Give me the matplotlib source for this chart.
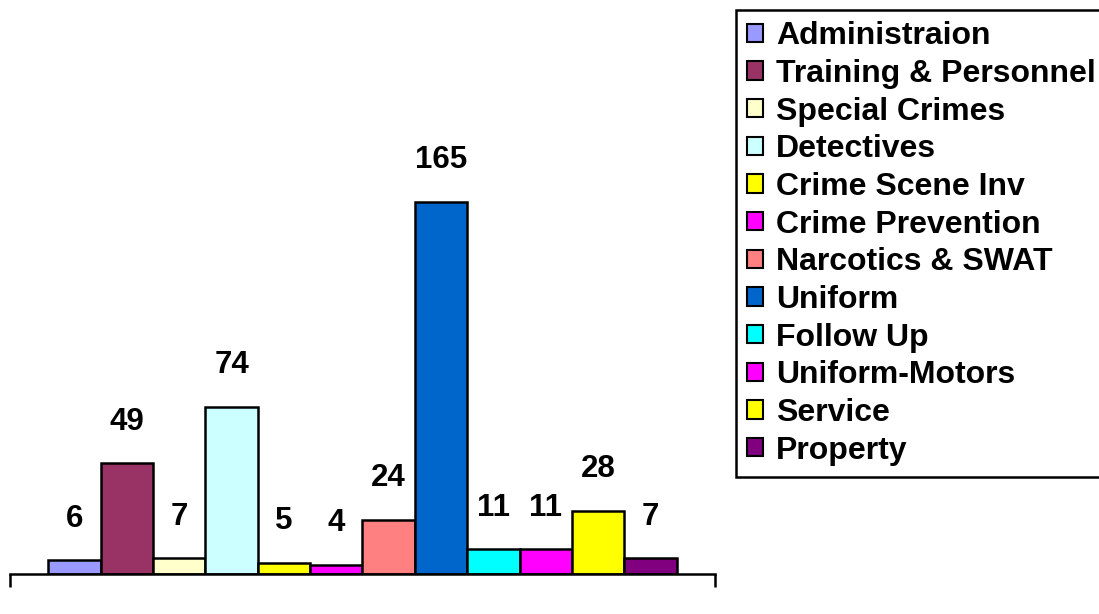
import matplotlib
matplotlib.use('Agg')
import matplotlib.pyplot as plt
from matplotlib.patches import Patch

plt.rcParams['font.family'] = ['Liberation Sans', 'DejaVu Sans']

units = ['Administraion', 'Training & Personnel', 'Special Crimes', 'Detectives',
         'Crime Scene Inv', 'Crime Prevention', 'Narcotics & SWAT', 'Uniform',
         'Follow Up', 'Uniform-Motors', 'Service', 'Property']
counts = [6, 49, 7, 74, 5, 4, 24, 165, 11, 11, 28, 7]
colors = ['#9999FF', '#993366', '#FFFFCC', '#CCFFFF', '#FFFF00', '#FF00FF',
          '#FF8080', '#0066CC', '#00FFFF', '#FF00FF', '#FFFF00', '#800080']

W, H = 1099, 614
fig = plt.figure(figsize=(W / 100, H / 100), dpi=100)
ax = fig.add_axes([10 / W, 40 / H, 705 / W, 406 / H])

x = list(range(len(counts)))
ax.bar(x, counts, width=1.0, color=colors, edgecolor='black', linewidth=1.8)

# value labels above each bar
for xi, v in zip(x, counts):
    ax.annotate(str(v), (xi, v), xytext=(0, 30), textcoords='offset points',
                ha='center', va='center', fontsize=22.5, fontweight='bold')

ax.set_xlim(-0.5 - 0.73, 11.5 + 0.73)
ax.set_ylim(0, 180)
for s in ['top', 'right', 'left']:
    ax.spines[s].set_visible(False)
ax.spines['bottom'].set_linewidth(1.8)
ax.set_yticks([])
ax.set_xticks([-0.5 - 0.73, 11.5 + 0.73])
ax.set_xticklabels([])
ax.tick_params(axis='x', direction='out', length=9, width=1.8)

handles = [Patch(facecolor=c, edgecolor='black', linewidth=1.5) for c in colors]
leg = fig.legend(handles, units, loc='upper left', bbox_to_anchor=(736 / W, 1 - 10 / H),
                 prop={'size': 23, 'weight': 'bold'}, frameon=True, fancybox=False,
                 framealpha=1, handlelength=0.5, handleheight=0.5, handletextpad=0.4,
                 labelspacing=0.24, borderpad=0.35, borderaxespad=0)
leg.get_frame().set_edgecolor('black')
leg.get_frame().set_linewidth(1.8)

fig.savefig('out.png', dpi=100)
